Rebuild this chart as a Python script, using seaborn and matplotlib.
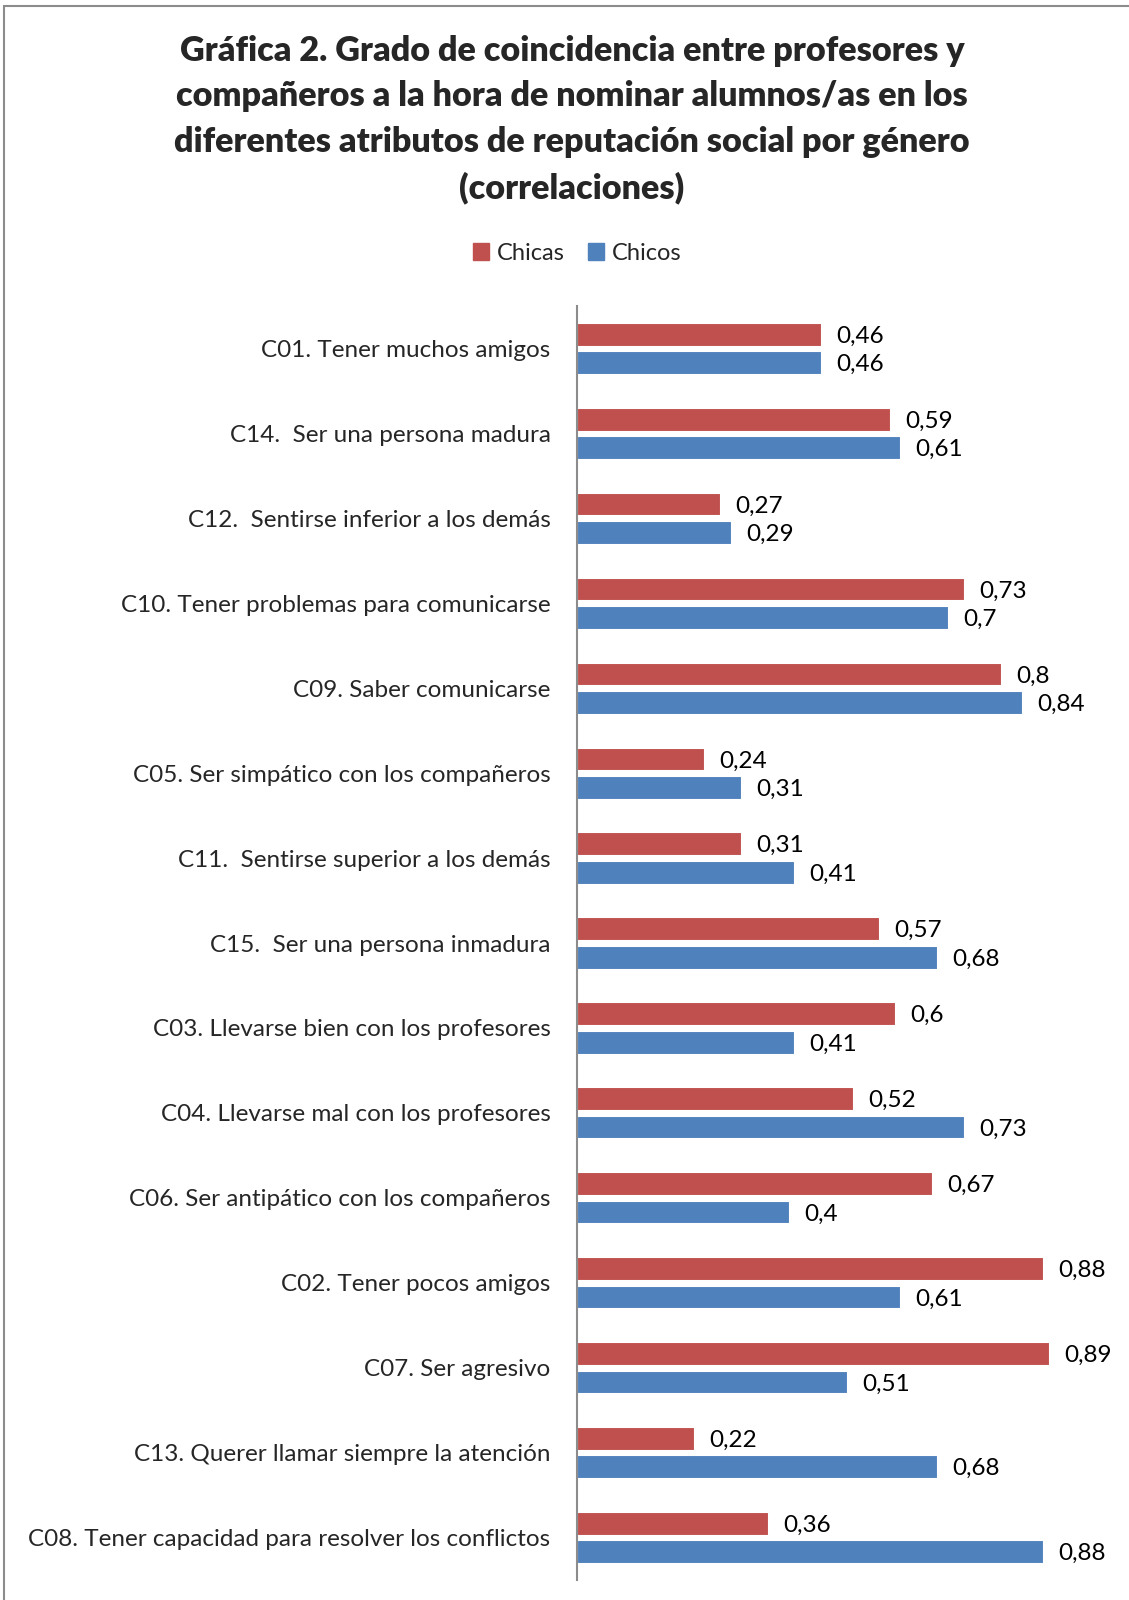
import matplotlib
matplotlib.use("Agg")
import matplotlib.pyplot as plt
import seaborn as sns
import pandas as pd
from matplotlib.patches import Rectangle

categories = [
    "C01. Tener muchos amigos",
    "C14.  Ser una persona madura",
    "C12.  Sentirse inferior a los demás",
    "C10. Tener problemas para comunicarse",
    "C09. Saber comunicarse",
    "C05. Ser simpático con los compañeros",
    "C11.  Sentirse superior a los demás",
    "C15.  Ser una persona inmadura",
    "C03. Llevarse bien con los profesores",
    "C04. Llevarse mal con los profesores",
    "C06. Ser antipático con los compañeros",
    "C02. Tener pocos amigos",
    "C07. Ser agresivo",
    "C13. Querer llamar siempre la atención",
    "C08. Tener capacidad para resolver los conflictos",
]
chicas = [0.46, 0.59, 0.27, 0.73, 0.80, 0.24, 0.31, 0.57, 0.60, 0.52, 0.67, 0.88, 0.89, 0.22, 0.36]
chicos = [0.46, 0.61, 0.29, 0.70, 0.84, 0.31, 0.41, 0.68, 0.41, 0.73, 0.40, 0.61, 0.51, 0.68, 0.88]
series_names = ["Chicas", "Chicos"]
colors = ["#C0504D", "#4F81BD"]

title = ("Gráfica 2. Grado de coincidencia entre profesores y\n"
         "compañeros a la hora de nominar alumnos/as en los\n"
         "diferentes atributos de reputación social por género\n"
         "(correlaciones)")

df = pd.DataFrame({
    "categoria": categories * 2,
    "valor": chicas + chicos,
    "serie": [series_names[0]] * len(categories) + [series_names[1]] * len(categories),
})

sns.set_theme(style="white")
plt.rcParams['font.family'] = ['Lato', 'DejaVu Sans']

W, H = 1129, 1600
fig = plt.figure(figsize=(W / 100, H / 100), dpi=100)
ax = fig.add_axes([577 / W, 1 - 1580 / H, 530 / W, (1580 - 306) / H])

sns.barplot(data=df, y="categoria", x="valor", hue="serie", order=categories,
            hue_order=series_names, palette=colors, saturation=1, orient="h",
            width=0.67, gap=0.2, edgecolor="white", linewidth=0.8, ax=ax, legend=False)

ax.set_xlim(0, 1.0)
ax.set_ylim(len(categories) - 0.5, -0.5)
ax.set_xlabel("")
ax.set_ylabel("")
ax.set_xticks([])
ax.tick_params(axis="y", length=0, pad=19, labelsize=17.5)
for s in ["top", "right", "bottom"]:
    ax.spines[s].set_visible(False)
ax.spines["left"].set_color("#8c8c8c")
ax.spines["left"].set_linewidth(1.5)

for cont in ax.containers:
    labels = [f"{v:g}".replace(".", ",") for v in cont.datavalues]
    texts = ax.bar_label(cont, labels=labels, padding=11, fontsize=17.5, color="black")
    for t in texts:
        t.set_verticalalignment("center_baseline")

fig.text(572 / W, 1 - 35 / H, title, ha="center", va="top", fontsize=24.6,
         fontweight="heavy", linespacing=1.51)

handles = [Rectangle((0, 0), 1, 1, color=c) for c in colors]
fig.legend(handles, series_names, loc="center", bbox_to_anchor=(577 / W, 1 - 253 / H),
           ncol=2, frameon=False, fontsize=17, handlelength=0.7, handleheight=0.7,
           handletextpad=0.3, columnspacing=1.0)

fig.patches.append(Rectangle((4 / W, -0.01), 1.1, 1 - 6 / H + 0.01, transform=fig.transFigure,
                             fill=False, edgecolor="#8c8c8c", linewidth=1.5))

fig.savefig("out.png", dpi=100)
